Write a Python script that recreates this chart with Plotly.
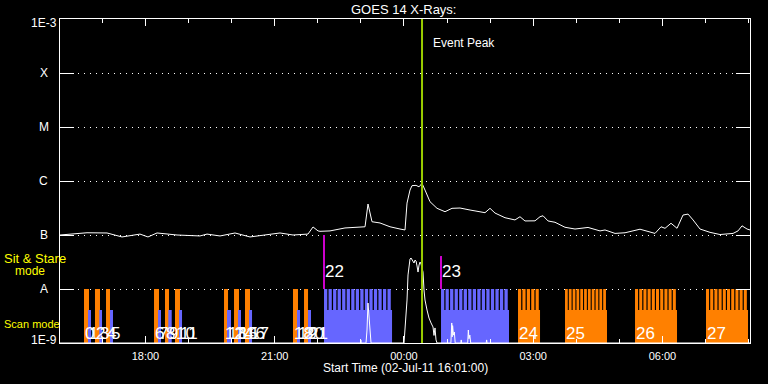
import plotly.graph_objects as go
from datetime import datetime, timedelta
import math

DAY0 = datetime(2011, 7, 2)

# ---------------- data (hours after 02-Jul-2011 00:00) ----------------
x_range_hours = [16.0167, 32.033]
tick_hours = [18, 21, 24, 27, 30]

goes_hours = [16.017, 16.644, 17.108, 17.456, 17.874, 18.059, 18.268, 18.733, 19.267, 19.429,
              19.731, 20.079, 20.427, 20.729, 21.123, 21.425, 21.773, 21.890, 22.006, 22.052,
              22.284, 22.632, 22.981, 23.097, 23.166, 23.213, 23.259, 23.445, 23.677, 23.909,
              24.025, 24.072, 24.141, 24.188, 24.281, 24.351, 24.420, 24.489, 24.605, 24.768,
              24.954, 25.116, 25.302, 25.534, 25.882, 25.998, 26.114, 26.346, 26.578, 26.694,
              26.810, 27.043, 27.159, 27.229, 27.345, 27.507, 27.739, 27.971, 28.273, 28.552,
              28.668, 28.900, 29.132, 29.480, 29.712, 29.828, 29.968, 30.061, 30.200, 30.339,
              30.478, 30.595, 30.711, 30.873, 31.105, 31.337, 31.639, 31.755, 31.848, 31.964,
              32.033]
goes_flux = [1.0e-7, 1.1e-7, 1.09e-7, 9.2e-8, 1.04e-7, 9.2e-8, 1.09e-7, 1.0e-7, 9.6e-8, 1.04e-7,
             9.6e-8, 1.09e-7, 9.2e-8, 1.0e-7, 1.09e-7, 1.0e-7, 1.04e-7, 1.41e-7, 1.19e-7, 1.17e-7,
             1.19e-7, 1.35e-7, 1.42e-7, 1.42e-7, 3.75e-7, 2.7e-7, 1.76e-7, 1.67e-7, 1.42e-7, 1.29e-7,
             1.24e-7, 3.9e-7, 6.8e-7, 8.2e-7, 8.3e-7, 7.8e-7, 9.05e-7, 6.8e-7, 4.14e-7, 3.12e-7,
             2.7e-7, 3.12e-7, 3.16e-7, 2.9e-7, 2.59e-7, 3.12e-7, 2.55e-7, 2.09e-7, 1.9e-7, 2.18e-7,
             1.82e-7, 1.83e-7, 2.18e-7, 2.27e-7, 1.82e-7, 1.72e-7, 1.39e-7, 1.29e-7, 1.38e-7, 1.19e-7,
             1.24e-7, 1.07e-7, 1.10e-7, 1.28e-7, 1.12e-7, 1.07e-7, 1.42e-7, 1.33e-7, 1.65e-7, 1.33e-7,
             2.34e-7, 2.44e-7, 1.9e-7, 1.29e-7, 1.12e-7, 1.02e-7, 1.07e-7, 1.19e-7, 1.48e-7, 1.29e-7,
             1.24e-7]

aux_hours = [16.017, 22.99, 23.0, 23.01, 23.12, 23.143, 23.166, 23.19, 23.213, 23.236,
             24.002, 24.048, 24.072, 24.095, 24.141, 24.165, 24.211, 24.234, 24.258, 24.281,
             24.304, 24.327, 24.351, 24.374, 24.397, 24.443, 24.466, 24.489, 24.536, 24.582,
             24.629, 24.675, 24.698, 24.721, 24.745, 24.768,
             25.09, 25.11, 25.12, 25.13, 25.15, 25.17, 25.19, 25.32, 25.33, 25.34,
             25.48, 25.495, 25.51, 25.53, 25.55, 25.91, 25.92, 25.93, 32.033]
aux_flux = [1e-9, 1e-9, 1.14e-9, 1e-9, 1e-9, 1.74e-9, 5.5e-9, 2.67e-9, 1.29e-9, 1e-9,
            1e-9, 2.67e-9, 6.25e-9, 1.82e-8, 3.6e-8, 3.75e-8, 3.16e-8, 3.03e-8, 3.44e-8, 3.3e-8,
            2.67e-8, 2.06e-8, 2.78e-8, 3.16e-8, 2.9e-8, 2.06e-8, 9.58e-9, 6.25e-9, 4.08e-9, 2.9e-9,
            2.35e-9, 1.98e-9, 1.38e-9, 1.9e-9, 1.14e-9, 1e-9,
            1e-9, 2.35e-9, 1.3e-9, 2.1e-9, 1.4e-9, 1.6e-9, 1e-9, 1e-9, 1.14e-9, 1e-9,
            1e-9, 1.74e-9, 1.2e-9, 1.4e-9, 1e-9, 1e-9, 1.14e-9, 1e-9, 1e-9]

obs_labels = [str(i) for i in range(28)]
obs_start = [16.574, 16.667, 16.829, 16.929, 17.085, 17.177, 18.199, 18.292, 18.454, 18.531,
             18.686, 18.779, 19.824, 19.893, 20.056, 20.149, 20.311, 20.404, 21.425, 21.518,
             21.681, 21.774, 22.145, 24.861, 26.648, 27.739, 29.364, 31.012]
obs_end = [16.690, 16.736, 16.945, 16.992, 17.177, 17.247, 18.315, 18.361, 18.547, 18.610,
           18.802, 18.849, 19.917, 19.986, 20.172, 20.218, 20.427, 20.474, 21.541, 21.588,
           21.774, 21.843, 23.724, 26.439, 27.159, 28.714, 30.339, 31.987]
obs_color = ["orange", "blue"] * 11 + ["blue", "blue", "orange", "orange", "orange", "orange"]
obs_steps = [0] * 22 + [15, 15, 5, 11, 10, 10]

sit_obs = [22, 23]
sit_hours = [22.145, 24.861]
sit_top = [1e-7, 4.08e-8]

event_peak_hour = 24.42

level_names = ["1E-9", "A", "B", "C", "M", "X", "1E-3"]
level_values = [1e-9, 1e-8, 1e-7, 1e-6, 1e-5, 1e-4, 1e-3]

# ---------------- styling constants ----------------
ORANGE = "#ff8000"
BLUE = "#6666ff"
MAGENTA = "#cc00cc"
GREEN = "#99cc00"
YELLOW = "#ffff00"
TALL_TOP = 1e-8
SHORT_TOP = 4.08e-9
FLOOR = 1e-9
FONT = "Liberation Sans"


def t(h):
    return DAY0 + timedelta(hours=h)


def rect(xs, ys, h0, h1, y1):
    xs += [t(h0), t(h0), t(h1), t(h1), t(h0), None]
    ys += [FLOOR, y1, y1, FLOOR, FLOOR, None]


poly = {"orange": ([], []), "blue": ([], [])}
for s, e, c, n in zip(obs_start, obs_end, obs_color, obs_steps):
    xs, ys = poly[c]
    if n == 0:
        rect(xs, ys, s, e, TALL_TOP if c == "orange" else SHORT_TOP)
    else:
        rect(xs, ys, s, e, SHORT_TOP)
        period = (e - s) / n
        for k in range(n):
            h0 = s + k * period
            rect(xs, ys, h0, h0 + 0.72 * period, TALL_TOP)

fig = go.Figure()

fig.add_trace(go.Scatter(x=[t(h) for h in goes_hours], y=goes_flux, mode="lines",
                         line=dict(color="white", width=1), hoverinfo="skip"))

for c, col in (("orange", ORANGE), ("blue", BLUE)):
    xs, ys = poly[c]
    fig.add_trace(go.Scatter(x=xs, y=ys, mode="lines", fill="toself", fillcolor=col,
                             line=dict(width=0, color=col), hoverinfo="skip"))

fig.add_trace(go.Scatter(x=[t(h) for h in aux_hours], y=aux_flux, mode="lines",
                         line=dict(color="white", width=1), hoverinfo="skip"))

mx, my = [], []
for h, top in zip(sit_hours, sit_top):
    mx += [t(h), t(h), None]
    my += [TALL_TOP, top, None]
fig.add_trace(go.Scatter(x=mx, y=my, mode="lines", line=dict(color=MAGENTA, width=2),
                         hoverinfo="skip"))

fig.add_trace(go.Scatter(x=[t(event_peak_hour), t(event_peak_hour)], y=[1e-9, 1e-3],
                         mode="lines", line=dict(color=GREEN, width=2), hoverinfo="skip"))

ann = []
# observation numbers
for i, (lab, s) in enumerate(zip(obs_labels, obs_start)):
    yv = -7.676 if i in sit_obs else -8.824
    ann.append(dict(x=t(s), y=yv, xref="x", yref="y", text=lab, showarrow=False,
                    xanchor="left", yanchor="middle", xshift=-1,
                    font=dict(family=FONT, size=17, color="white")))
# y level labels
for name, v in zip(level_names, level_values):
    ys = 0
    if name == "1E-3":
        ys = -4
    elif name == "1E-9":
        ys = 3
    ann.append(dict(x=-0.0232, y=math.log10(v), xref="paper", yref="y", text=name,
                    showarrow=False, xanchor="center", yanchor="middle", yshift=ys,
                    font=dict(family=FONT, size=12, color="white")))
# mode labels
ann.append(dict(x=-0.0841, y=0.2593, xref="paper", yref="paper", text="Sit & Stare",
                showarrow=False, xanchor="left", yanchor="middle",
                font=dict(family=FONT, size=13, color=YELLOW)))
ann.append(dict(x=-0.0686, y=0.2222, xref="paper", yref="paper", text="mode",
                showarrow=False, xanchor="left", yanchor="middle",
                font=dict(family=FONT, size=12, color=YELLOW)))
ann.append(dict(x=-0.0845, y=0.0586, xref="paper", yref="paper", text="Scan mode",
                showarrow=False, xanchor="left", yanchor="middle",
                font=dict(family=FONT, size=11, color=YELLOW)))
# event peak
ann.append(dict(x=t(event_peak_hour), y=0.9259, xref="x", yref="paper", text="Event Peak",
                showarrow=False, xanchor="left", yanchor="middle", xshift=9,
                font=dict(family=FONT, size=12, color="white")))
# title and x title
ann.append(dict(x=0.4985, y=1.0278, xref="paper", yref="paper", text="GOES 14 X-Rays:",
                showarrow=False, xanchor="center", yanchor="middle",
                font=dict(family=FONT, size=13, color="white")))
ann.append(dict(x=0.5005, y=-0.0772, xref="paper", yref="paper",
                text="Start Time (02-Jul-11 16:01:00)",
                showarrow=False, xanchor="center", yanchor="middle",
                font=dict(family=FONT, size=12, color="white")))

fig.update_layout(
    width=768, height=384,
    margin=dict(l=60, r=18, t=19, b=41),
    paper_bgcolor="black", plot_bgcolor="black",
    showlegend=False,
    hovermode=False,
    font=dict(family=FONT, color="white", size=11),
    annotations=ann,
    xaxis=dict(type="date", range=[t(x_range_hours[0]), t(x_range_hours[1])],
               tickvals=[t(h) for h in tick_hours], tickformat="%H:%M",
               ticks="inside", ticklen=7, tickwidth=1, tickcolor="white",
               showline=True, linecolor="white", linewidth=1, mirror="ticks",
               showgrid=False, zeroline=False, ticklabelstandoff=3,
               tickfont=dict(family=FONT, size=11, color="white"),
               minor=dict(dtick=3600000, tick0=t(18), ticks="inside", ticklen=4,
                          tickcolor="white", showgrid=False)),
    yaxis=dict(type="log", range=[-9, -3], tickvals=level_values, showticklabels=False,
               ticks="inside", ticklen=14, tickwidth=1, tickcolor="white",
               showline=True, linecolor="white", linewidth=1, mirror="ticks",
               showgrid=True, gridcolor="white", gridwidth=1, griddash="1px,5px",
               zeroline=False),
)

# remove the browser's default 8px page margin so the figure fills the window exactly
fig.write_html("out.html",
               config={"displayModeBar": False, "staticPlot": True},
               post_script="document.body.style.margin='0';document.body.style.background='black';")
